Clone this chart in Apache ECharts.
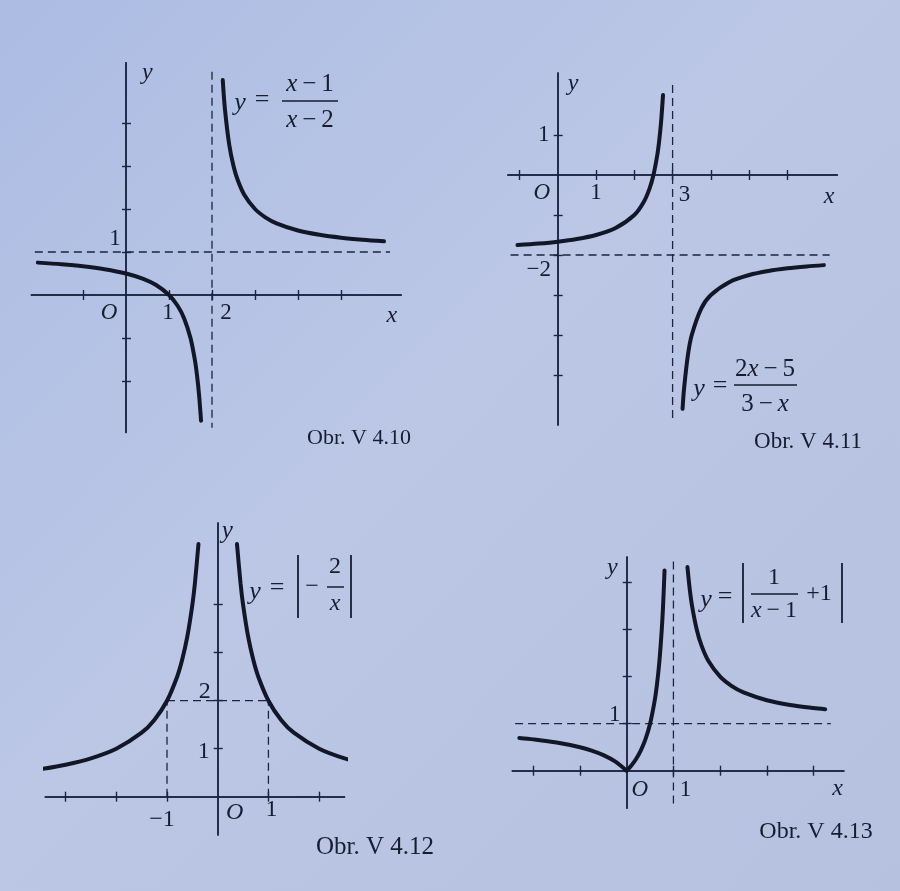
<!DOCTYPE html>
<html><head><meta charset="utf-8">
<script src="https://cdn.jsdelivr.net/npm/echarts@6/dist/echarts.min.js"></script>
<style>html,body{margin:0;padding:0;background:#b6c3e4}#c{width:900px;height:891px}</style>
</head><body><div id="c"></div><script>
// ---------- data ----------
// Obr. V 4.10 : y = (x-1)/(x-2)
const p1BranchLeft  = [[-2.05,0.753],[-1.5,0.714],[-1,0.667],[-0.5,0.6],[0,0.5],[0.4,0.375],[0.7,0.231],[1,0],[1.2,-0.25],[1.35,-0.538],[1.5,-1],[1.6,-1.5],[1.65,-1.857],[1.7,-2.333],[1.745,-2.922]];
const p1BranchRight = [[2.25,5],[2.3,4.333],[2.4,3.5],[2.5,3],[2.6,2.667],[2.75,2.333],[3,2],[3.25,1.8],[3.5,1.667],[4,1.5],[4.5,1.4],[5,1.333],[5.5,1.286],[6,1.25]];
const p1HAsym = [[-2.12,1],[6.14,1]];
const p1VAsym = [[2,5.19],[2,-3.09]];
const p1XTicks = [-1,1,2,3,4,5];
const p1YTicks = [-2,-1,1,2,3,4];
const p1XLabelVals = [0,1,2],  p1XLabelTexts = ['O','1','2'];
const p1YLabelVals = [1],      p1YLabelTexts = ['1'];

// Obr. V 4.11 : y = (2x-5)/(3-x)
const p2BranchLeft  = [[-1.05,-1.753],[-0.5,-1.714],[0,-1.667],[0.5,-1.6],[1,-1.5],[1.5,-1.333],[2,-1],[2.25,-0.667],[2.4,-0.333],[2.5,0],[2.6,0.5],[2.65,0.857],[2.7,1.333],[2.75,2]];
const p2BranchRight = [[3.26,-5.846],[3.3,-5.333],[3.4,-4.5],[3.5,-4],[3.75,-3.333],[4,-3],[4.5,-2.667],[5,-2.5],[5.5,-2.4],[6,-2.333],[6.5,-2.286],[6.95,-2.253]];
const p2HAsym = [[-1.23,-2],[7.1,-2]];
const p2VAsym = [[3,2.25],[3,-6.12]];
const p2XTicks = [-1,1,2,3,4,5,6];
const p2YTicks = [1,-1,-2,-3,-4,-5];
const p2XLabelVals = [0,1,3],  p2XLabelTexts = ['O','1','3'];
const p2YLabelVals = [1,-2],   p2YLabelTexts = ['1','\u22122'];

// Obr. V 4.12 : y = |-2/x|
const p3BranchLeft  = [[-3.45,0.58],[-3,0.667],[-2.5,0.8],[-2,1],[-1.5,1.333],[-1.25,1.6],[-1,2],[-0.8,2.5],[-0.7,2.857],[-0.6,3.333],[-0.5,4],[-0.45,4.444],[-0.38,5.263]];
const p3BranchRight = [[0.38,5.263],[0.45,4.444],[0.5,4],[0.6,3.333],[0.7,2.857],[0.8,2.5],[1,2],[1.25,1.6],[1.5,1.333],[2,1],[2.5,0.8],[3,0.667],[3.35,0.597]];
const p3HGuide  = [[-1,2],[1,2]];
const p3VGuideL = [[-1,0],[-1,2]];
const p3VGuideR = [[1,0],[1,2]];
const p3XTicks = [-3,-2,-1,1,2];
const p3YTicks = [1,2,3,4];
const p3XLabelVals = [-1,0,1], p3XLabelTexts = ['\u22121','O','1'];
const p3YLabelVals = [1,2],    p3YLabelTexts = ['1','2'];

// Obr. V 4.13 : y = |1/(x-1) + 1|
const p4BranchLeft  = [[-2.3,0.697],[-2,0.667],[-1.5,0.6],[-1,0.5],[-0.75,0.429],[-0.5,0.333],[-0.25,0.2],[0,0]];
const p4BranchMid   = [[0,0],[0.1,0.111],[0.2,0.25],[0.3,0.429],[0.4,0.667],[0.5,1],[0.6,1.5],[0.65,1.857],[0.7,2.333],[0.75,3],[0.78,3.545],[0.81,4.263]];
const p4BranchRight = [[1.3,4.333],[1.35,3.857],[1.4,3.5],[1.5,3],[1.6,2.667],[1.75,2.333],[2,2],[2.25,1.8],[2.5,1.667],[3,1.5],[3.5,1.4],[4,1.333],[4.25,1.308]];
const p4HAsym = [[-2.39,1],[4.37,1]];
const p4VAsym = [[1,4.45],[1,-0.77]];
const p4XTicks = [-2,-1,1,2,3,4];
const p4YTicks = [1,2,3,4];
const p4XLabelVals = [0,1],    p4XLabelTexts = ['O','1'];
const p4YLabelVals = [1],      p4YLabelTexts = ['1'];

// ---------- styling / layout ----------
const INK = '#121728', AXIS = '#1a2443', TXT = '#161d30';
const SERIF = '"Liberation Serif","DejaVu Serif",serif';

const panels = [
  { grid:{left:31.4, top:62.8, width:369.8, height:369.8}, x:[-2.2,6.4], y:[-3.2,5.4],
    xT:p1XTicks, yT:p1YTicks, fs:23,
    xL:[p1XLabelVals,p1XLabelTexts,[[-17,18],[-1,18],[14,18]]],
    yL:[p1YLabelVals,p1YLabelTexts,[[-11,-13]]],
    xName:{name:'x', gap:-4, st:{align:'right',verticalAlign:'top',padding:[9,0,0,0]}},
    yName:{name:'y', gap:2, st:{align:'left',verticalAlign:'top',padding:[0,0,0,16]}},
    curves:[p1BranchLeft,p1BranchRight], dashed:[p1HAsym,p1VAsym] },
  { grid:{left:507.9, top:73, width:329.4, height:352}, x:[-1.3,7.3], y:[-6.25,2.55],
    xT:p2XTicks, yT:p2YTicks, fs:23,
    xL:[p2XLabelVals,p2XLabelTexts,[[-16,18],[0,18],[12,20]]],
    yL:[p2YLabelVals,p2YLabelTexts,[[-14,0],[-19,15]]],
    xName:{name:'x', gap:-3, st:{align:'right',verticalAlign:'top',padding:[10,0,0,0]}},
    yName:{name:'y', gap:1, st:{align:'left',verticalAlign:'top',padding:[0,0,0,10]}},
    curves:[p2BranchLeft,p2BranchRight], dashed:[p2HAsym,p2VAsym] },
  { grid:{left:45.3, top:523.1, width:299.2, height:312}, x:[-3.4,2.5], y:[-0.8,5.7],
    xT:p3XTicks, yT:p3YTicks, fs:24,
    xL:[p3XLabelVals,p3XLabelTexts,[[-5,23],[17,16],[3,13]]],
    yL:[p3YLabelVals,p3YLabelTexts,[[-14,3],[-13,-9]]],
    xName:null,
    yName:{name:'y', gap:4, st:{align:'left',verticalAlign:'top',padding:[0,0,0,4]}},
    curves:[p3BranchLeft,p3BranchRight], dashed:[p3HGuide,p3VGuideL,p3VGuideR] },
  { grid:{left:512.3, top:556.9, width:331.6, height:251.4}, x:[-2.45,4.65], y:[-0.8,4.55],
    xT:p4XTicks, yT:p4YTicks, fs:23,
    xL:[p4XLabelVals,p4XLabelTexts,[[13,19],[12,19]]],
    yL:[p4YLabelVals,p4YLabelTexts,[[-12,-9]]],
    xName:{name:'x', gap:-1, st:{align:'right',verticalAlign:'top',padding:[6,0,0,0]}},
    yName:{name:'y', gap:1, st:{align:'right',verticalAlign:'top',padding:[0,9,0,0]}},
    curves:[p4BranchLeft,p4BranchMid,p4BranchRight], dashed:[p4HAsym,p4VAsym] }
];

const grid = [], xAxis = [], yAxis = [], series = [];
const axisLine = { onZero:true, lineStyle:{ color:AXIS, width:1.5 } };

function tickLabelSeries(i, spec, onX, fs) {
  const [vals, texts, offs] = spec;
  return { type:'scatter', xAxisIndex:2*i, yAxisIndex:2*i, symbolSize:0, silent:true, clip:false, z:5,
    itemStyle:{ opacity:1 },
    data: vals.map((v,k) => ({
      value: onX ? [v,0] : [0,v],
      label:{ show:true, position:'inside', offset:offs[k], formatter:texts[k],
              fontFamily:SERIF, fontSize:fs, color:TXT, opacity:1, textBorderWidth:0,
              fontStyle: texts[k]==='O' ? 'italic' : 'normal' } })) };
}

panels.forEach((p,i) => {
  grid.push(Object.assign({ containLabel:false, outerBoundsMode:'none' }, p.grid));
  const nameStyle = (n) => n ? { name:n.name, nameLocation:'end', nameGap:n.gap,
      nameTextStyle: Object.assign({ fontFamily:SERIF, fontStyle:'italic', fontSize:p.fs+1, color:TXT }, n.st) } : {};
  const tick = (vals, len) => ({ show:true, customValues:vals, length:len, lineStyle:{color:AXIS,width:1.4} });
  xAxis.push(Object.assign({ gridIndex:i, type:'value', position:'bottom', min:p.x[0], max:p.x[1],
    axisLine, splitLine:{show:false}, axisTick:tick(p.xT,5), axisLabel:{ show:false } }, nameStyle(p.xName)));
  xAxis.push({ gridIndex:i, type:'value', position:'top', min:p.x[0], max:p.x[1],
    axisLine, splitLine:{show:false}, axisTick:tick(p.xT,5), axisLabel:{ show:false } });
  yAxis.push(Object.assign({ gridIndex:i, type:'value', position:'left', min:p.y[0], max:p.y[1],
    axisLine, splitLine:{show:false}, axisTick:tick(p.yT,4), axisLabel:{ show:false } }, nameStyle(p.yName)));
  yAxis.push({ gridIndex:i, type:'value', position:'right', min:p.y[0], max:p.y[1],
    axisLine, splitLine:{show:false}, axisTick:tick(p.yT,5), axisLabel:{ show:false } });
  p.dashed.forEach(d => series.push({ type:'line', xAxisIndex:2*i, yAxisIndex:2*i, data:d,
    symbol:'none', silent:true, clip:false, z:2,
    lineStyle:{ color:AXIS, width:1.3, type:[8,5] } }));
  p.curves.forEach(c => series.push({ type:'line', xAxisIndex:2*i, yAxisIndex:2*i, data:c,
    symbol:'none', silent:true, clip:false, smooth:0.3, z:3,
    lineStyle:{ color:INK, width:4, cap:'round' } }));
  series.push(tickLabelSeries(i, p.xL, true, p.fs));
  series.push(tickLabelSeries(i, p.yL, false, p.fs));
});

// ---------- formula & caption text ----------
function t(x, y, text, size, italic) {
  return { type:'text', x, y, silent:true, style:{ text, fill:TXT,
    font:(italic?'italic ':'')+size+'px '+SERIF,
    align:'center', verticalAlign:'middle', textAlign:'center', textVerticalAlign:'middle' } };
}
function r(x, y, text, size) {
  return { type:'text', x, y, silent:true, style:{ text, fill:TXT,
    font:size+'px '+SERIF,
    rich:{ i:{ font:'italic '+size+'px '+SERIF, fill:TXT }, n:{ font:size+'px '+SERIF, fill:TXT } },
    align:'center', verticalAlign:'middle', textAlign:'center', textVerticalAlign:'middle' } };
}
function ln(x1,y1,x2,y2,w) { return { type:'line', silent:true, shape:{x1,y1,x2,y2}, style:{ stroke:TXT, lineWidth:w||1.5 } }; }

const graphic = [
  // V 4.10
  t(240,103,'y',26,true), t(262,100,'=',26,false),
  r(310,84,'{i|x}{n|\u2009\u2212\u20091}',25), ln(282,101,338,101,1.6), r(310,120,'{i|x}{n|\u2009\u2212\u20092}',25),
  t(359,438,'Obr. V 4.10',22,false),
  // V 4.11
  t(699,389,'y',26,true), t(720,386,'=',26,false),
  r(765,369,'{n|2}{i|x}{n|\u2009\u2212\u20095}',25), ln(734,385,797,385,1.6), r(765,404,'{n|3\u2009\u2212\u2009}{i|x}',25),
  t(808,442,'Obr. V 4.11',23,false),
  // V 4.12
  t(255,592,'y',26,true), t(277,588,'=',26,false),
  ln(298,555,298,618,1.8), t(312,587,'\u2212',24,false),
  t(335,567,'2',24,false), ln(327,587,344,587,1.5), t(335,604,'x',24,true),
  ln(351,555,351,618,1.8),
  t(375,847,'Obr. V 4.12',25,false),
  // V 4.13
  t(706,600,'y',26,true), t(725,597,'=',26,false),
  ln(743,563,743,623,1.8),
  t(774,578,'1',24,false), ln(751,594,798,594,1.5), r(774,611,'{i|x}{n|\u2009\u2212\u20091}',24),
  t(819,594,'+1',24,false),
  ln(842,563,842,623,1.8),
  t(816,832,'Obr. V 4.13',24,false)
];

const chart = echarts.init(document.getElementById('c'), null, { renderer:'canvas' });
chart.setOption({
  animation:false,
  backgroundColor: new echarts.graphic.LinearGradient(0,0,1,1,[
    {offset:0,color:'#acbce3'},{offset:0.45,color:'#bcc7e6'},{offset:1,color:'#b6c1e0'}]),
  grid, xAxis, yAxis, series, graphic
});
</script></body></html>
